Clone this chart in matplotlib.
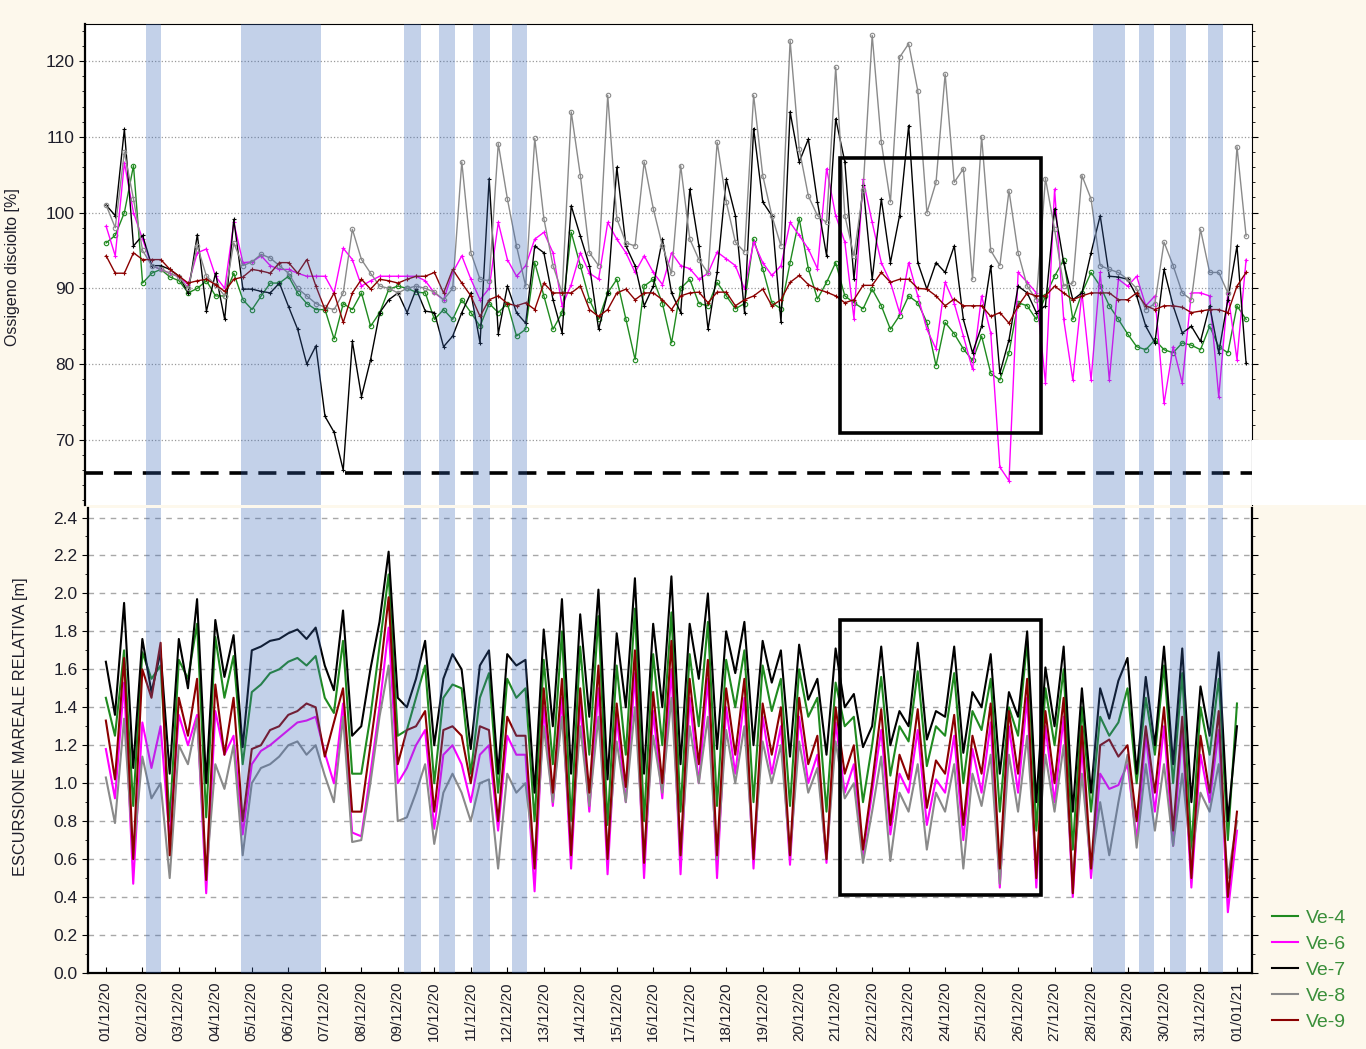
"""Ossigeno disciolto + escursione mareale, Dicembre 2020 (Ve-4..Ve-9)"""
import numpy as np
import matplotlib
matplotlib.use('Agg')
import matplotlib.pyplot as plt
from matplotlib.patches import Rectangle

plt.rcParams['font.family'] = ['Liberation Sans', 'DejaVu Sans']

# ---------------- data ----------------
STATIONS = ['Ve-4', 'Ve-6', 'Ve-7', 'Ve-8', 'Ve-9']
COLORS = ['#1f8a1f', '#ff00ff', '#000000', '#8a8a8a', '#8b0000']

DATE_LABELS = ['01/12/20', '02/12/20', '03/12/20', '04/12/20', '05/12/20', '06/12/20',
               '07/12/20', '08/12/20', '09/12/20', '10/12/20', '11/12/20', '12/12/20',
               '13/12/20', '14/12/20', '15/12/20', '16/12/20', '17/12/20', '18/12/20',
               '19/12/20', '20/12/20', '21/12/20', '22/12/20', '23/12/20', '24/12/20',
               '25/12/20', '26/12/20', '27/12/20', '28/12/20', '29/12/20', '30/12/20',
               '31/12/20', '01/01/21']

# MOSE closures (days from 01/12 00:00)
BAND_START = [1.10, 3.70, 8.17, 9.13, 10.06, 11.13, 27.06, 28.32, 29.17, 30.21]
BAND_END = [1.51, 5.89, 8.63, 9.57, 10.53, 11.54, 27.93, 28.73, 29.61, 30.62]

# highlighted window
BOX_DAYS = (20.12, 25.63)
BOX_O2 = (70.9, 107.15)
BOX_TIDE = (0.41, 1.862)
O2_THRESHOLD = 65.6

# dissolved oxygen [%], one value every 6 h from 01/12 00:00
o2_ve4 = [96, 97, 100, 106.2, 90.7, 92, 92.5, 91.5, 91, 89.4, 90, 91, 89, 89, 92, 88.5,
          87.2, 89, 90.7, 90.7, 91.6, 89.4, 88, 87.2, 87.2, 83.3, 88, 87.2, 89.4, 85, 86.8, 89.9,
          90.3, 90, 89.5, 89.4, 85.9, 87.2, 85.9, 88.5, 86.8, 85, 88, 86.8, 88, 83.7, 84.6, 93.4,
          89, 84.6, 86.8, 97.4, 93, 88.5, 85.9, 89.4, 91.2, 85.9, 80.6, 90.3, 91.2, 88, 82.8, 90,
          91.2, 88, 87.7, 90.8, 89, 87.3, 88, 96.5, 92.6, 88.1, 87.3, 93.4, 99.2, 92.6, 88.6, 90.8,
          93.4, 89, 88.1, 87.3, 89.9, 87.7, 84.6, 86.4, 89, 88.1, 85.5, 79.8, 85.5, 84, 82, 80.5,
          83.7, 78.8, 77.9, 81.5, 88.1, 87.7, 85.9, 89, 91.6, 93.8, 85.9, 89.4, 92.1, 90.3, 87.7, 85.9,
          84, 82.3, 81.9, 83.2, 81.9, 81.5, 82.8, 82.5, 81.9, 85, 82.3, 81.5, 87.7, 85.9]
o2_ve6 = [98.2, 94.3, 106.6, 100, 96.5, 93, 92.5, 92, 91.5, 90.5, 94.7, 95.2, 91.6, 90, 98.7, 93.4,
          93.5, 94.3, 93, 92.5, 92.5, 92, 91.6, 91.6, 91.6, 89.4, 95.3, 93.8, 90.3, 91, 91.6, 91.6,
          91.6, 91.6, 91.6, 91, 89.4, 88.5, 92.1, 94.3, 91.2, 88.5, 90, 98.7, 93.8, 91.6, 93, 96.5,
          97.4, 94.7, 87.7, 90.5, 94.7, 92, 91.2, 98.7, 96.5, 94.7, 92.1, 94.3, 92.1, 90.5, 94.7, 93,
          92.6, 91.2, 92, 94.8, 93.9, 93, 89.9, 96.1, 93.4, 91.7, 93, 98.7, 97, 95.2, 92.6, 105.8,
          99.6, 96.1, 86, 104.4, 98.7, 93.4, 90.8, 86.8, 93.4, 89, 84.6, 82, 90.8, 88, 83.7, 79.3,
          89, 84.1, 66.4, 64.6, 92.1, 90.8, 89.4, 77.5, 103.1, 85.9, 77.9, 89.4, 77.9, 92.1, 77.9, 91.2,
          90.3, 91.6, 87.7, 89, 74.8, 82.3, 77.5, 89.4, 89.4, 89, 75.7, 89.4, 80.6, 93.8]
o2_ve7 = [101, 99.6, 111, 95.6, 97, 93, 93, 92.5, 91.6, 89.4, 97.1, 87, 92, 85.9, 99.1, 89.9,
          89.9, 89.6, 89.4, 90.7, 87.6, 84.6, 80, 82.4, 73.1, 71, 66, 83, 75.7, 80.6, 86.8, 88.5,
          89.4, 86.8, 89.9, 87, 86.8, 82.3, 83.7, 86.8, 89.4, 82.8, 104.5, 84, 90.3, 86.8, 85.4, 95.6,
          94.7, 88.5, 84.1, 100.9, 96.9, 93, 84.6, 89.4, 106, 95.6, 93, 87.7, 90.3, 96.5, 89.4, 86.8,
          103.1, 95.6, 84.6, 92.1, 104.4, 99.6, 86.8, 111.1, 101.4, 99.6, 85.5, 113.3, 106.7, 109.7, 101.4, 94.3,
          112.4, 106.7, 91.2, 103.6, 91.2, 101.8, 93.4, 99.6, 111.5, 93.4, 89.9, 93.4, 92.1, 95.6, 85.9, 81.5,
          85, 93, 78.8, 83.2, 90.3, 89.4, 86.8, 87.7, 100.5, 93.4, 88.5, 89.4, 94.7, 99.6, 91.6, 91.5,
          91.2, 89, 85, 82.8, 92.5, 87.7, 84.1, 85, 83, 87.7, 81.5, 88.5, 95.6, 80.1]
o2_ve8 = [101, 98, 108, 101.8, 95, 93, 92.5, 92, 91.5, 90, 95.6, 91.6, 90.5, 89, 96, 93,
          93.5, 94.5, 94, 93, 92, 90, 89, 88, 87.5, 87.2, 89.4, 97.8, 93.8, 92, 90.3, 90,
          89.4, 90, 90.3, 90, 89.5, 88.5, 90, 106.7, 94.7, 91.2, 91, 109.1, 101.8, 95.6, 90.3, 109.8,
          99.2, 93, 89.4, 113.3, 104.9, 94.7, 93, 115.5, 99.2, 96, 95.6, 106.7, 100.5, 95.6, 92, 106.2,
          96.5, 93.8, 92, 109.3, 101.4, 96.1, 94.8, 115.5, 104.9, 99.6, 95.6, 122.7, 108.4, 102.2, 99.6, 98.7,
          119.2, 99.6, 94.3, 103, 123.4, 109.3, 101.4, 120.5, 122.3, 116.1, 100, 104, 118.3, 104, 105.8, 91.2,
          110, 95, 93, 102.9, 94.7, 90.3, 88.5, 104.5, 97.8, 90.3, 90.7, 104.9, 101.8, 93, 92.5, 92.1,
          91.2, 90, 87.2, 88, 96.1, 93, 89.4, 88.5, 97.8, 92.1, 92.1, 89.4, 108.7, 96.9]
o2_ve9 = [94.3, 92, 92, 94.7, 93.8, 93.8, 93.8, 92.5, 91.6, 90.7, 91, 91.2, 90.5, 89.6, 91.2, 91.5,
          92.5, 92.3, 92, 93.4, 93.4, 92, 93.8, 90.3, 87.2, 89.4, 85.5, 89.4, 91.2, 89.9, 91.2, 91,
          90.7, 91.2, 91.6, 91.6, 92.1, 89.4, 92.5, 90.7, 89, 86.3, 88.5, 89, 88, 87.7, 88.1, 87.2,
          90.7, 89.4, 89.4, 89.4, 90.3, 87.2, 86.3, 87.2, 89.4, 89.9, 88.5, 89.4, 89.4, 88.5, 87.2, 89,
          89.4, 89.5, 88.1, 89.5, 89.5, 87.7, 88.5, 89, 89.9, 87.7, 88.5, 90.8, 91.7, 90.5, 89.9, 89.5,
          89, 88.1, 88.5, 90.4, 90.4, 92.1, 90.8, 91.2, 91.2, 90, 89.9, 89, 87.7, 88.6, 87.7, 87.7,
          87.7, 86.3, 86.8, 85.4, 87.7, 89.4, 89, 89, 90.3, 89.4, 88.5, 89, 89.4, 89.4, 89.4, 88.5,
          88.5, 89.4, 87.7, 87.2, 87.7, 87.7, 87.5, 86.8, 87, 87.2, 87.2, 86.8, 90.3, 92.1]

# relative tidal excursion [m], one value every 6 h from 01/12 00:00
tide_ve4 = [1.45, 1.25, 1.70, 0.88, 1.69, 1.55, 1.62, 0.80, 1.65, 1.55, 1.84, 0.82, 1.77, 1.45, 1.67, 1.10,
            1.48, 1.52, 1.58, 1.60, 1.64, 1.66, 1.62, 1.67, 1.45, 1.37, 1.75, 1.05, 1.05, 1.35, 1.72, 2.10,
            1.25, 1.28, 1.45, 1.62, 1.00, 1.45, 1.52, 1.50, 1.05, 1.45, 1.58, 0.95, 1.55, 1.45, 1.50, 0.80,
            1.65, 1.10, 1.80, 0.80, 1.72, 1.15, 1.88, 0.78, 1.62, 1.15, 1.92, 0.80, 1.68, 1.20, 1.90, 0.85,
            1.68, 1.30, 1.85, 0.88, 1.65, 1.40, 1.70, 0.90, 1.62, 1.38, 1.55, 0.88, 1.60, 1.35, 1.45, 0.85,
            1.53, 1.30, 1.35, 0.90, 1.20, 1.56, 1.04, 1.30, 1.22, 1.59, 1.09, 1.30, 1.25, 1.58, 1.00, 1.38,
            1.28, 1.55, 0.85, 1.40, 1.25, 1.75, 0.75, 1.50, 1.20, 1.60, 0.65, 1.40, 0.85, 1.35, 1.25, 1.32,
            1.50, 1.00, 1.45, 1.15, 1.62, 1.00, 1.58, 0.65, 1.40, 1.15, 1.55, 0.70, 1.42]
tide_ve6 = [1.18, 0.92, 1.53, 0.47, 1.32, 1.08, 1.30, 0.70, 1.36, 1.20, 1.36, 0.42, 1.38, 1.15, 1.25, 0.73,
            1.10, 1.17, 1.20, 1.24, 1.28, 1.32, 1.33, 1.35, 1.16, 1.00, 1.42, 0.74, 0.72, 1.05, 1.40, 1.82,
            1.00, 1.08, 1.20, 1.28, 0.76, 1.15, 1.20, 1.10, 0.90, 1.15, 1.20, 0.75, 1.25, 1.15, 1.15, 0.43,
            1.40, 0.88, 1.45, 0.55, 1.42, 0.85, 1.50, 0.52, 1.35, 0.90, 1.58, 0.50, 1.38, 0.92, 1.60, 0.52,
            1.45, 1.00, 1.55, 0.50, 1.40, 1.05, 1.45, 0.55, 1.35, 1.05, 1.30, 0.57, 1.35, 1.00, 1.15, 0.58,
            1.32, 0.95, 1.10, 0.62, 0.95, 1.28, 0.73, 1.05, 0.95, 1.28, 0.78, 1.02, 0.95, 1.25, 0.70, 1.18,
            0.95, 1.32, 0.45, 1.30, 0.95, 1.45, 0.45, 1.30, 0.90, 1.35, 0.40, 1.20, 0.50, 1.05, 0.97, 0.99,
            1.10, 0.70, 1.25, 0.85, 1.30, 0.67, 1.28, 0.45, 1.15, 0.90, 1.28, 0.32, 0.75]
tide_ve7 = [1.64, 1.36, 1.95, 1.08, 1.76, 1.48, 1.69, 1.05, 1.76, 1.50, 1.97, 1.00, 1.86, 1.56, 1.78, 1.19,
            1.70, 1.72, 1.75, 1.76, 1.79, 1.81, 1.76, 1.82, 1.62, 1.49, 1.91, 1.25, 1.30, 1.60, 1.85, 2.22,
            1.45, 1.40, 1.55, 1.75, 1.20, 1.55, 1.68, 1.60, 1.18, 1.62, 1.70, 1.05, 1.68, 1.62, 1.65, 0.95,
            1.81, 1.30, 1.97, 1.05, 1.89, 1.35, 2.02, 1.02, 1.79, 1.40, 2.08, 1.05, 1.84, 1.40, 2.09, 1.10,
            1.84, 1.55, 2.00, 1.18, 1.80, 1.58, 1.85, 1.20, 1.75, 1.53, 1.70, 1.14, 1.73, 1.44, 1.55, 1.15,
            1.71, 1.40, 1.47, 1.19, 1.30, 1.72, 1.20, 1.38, 1.30, 1.74, 1.23, 1.38, 1.35, 1.72, 1.16, 1.48,
            1.40, 1.68, 1.05, 1.48, 1.35, 1.80, 0.90, 1.61, 1.30, 1.72, 0.85, 1.50, 0.95, 1.50, 1.34, 1.54,
            1.66, 1.05, 1.56, 1.20, 1.72, 1.10, 1.71, 0.90, 1.51, 1.25, 1.69, 0.80, 1.30]
tide_ve8 = [1.03, 0.79, 1.34, 0.62, 1.14, 0.92, 1.00, 0.50, 1.20, 1.10, 1.34, 0.51, 1.10, 0.97, 1.20, 0.62,
            1.00, 1.08, 1.10, 1.14, 1.20, 1.22, 1.15, 1.20, 1.04, 0.90, 1.35, 0.69, 0.70, 1.00, 1.35, 1.62,
            0.80, 0.82, 0.95, 1.10, 0.68, 0.95, 1.05, 0.95, 0.80, 1.00, 1.02, 0.55, 1.05, 0.95, 1.00, 0.60,
            1.30, 0.90, 1.35, 0.68, 1.30, 0.88, 1.35, 0.65, 1.22, 0.90, 1.40, 0.62, 1.25, 0.95, 1.45, 0.62,
            1.30, 1.00, 1.35, 0.60, 1.28, 1.00, 1.30, 0.62, 1.22, 1.00, 1.20, 0.62, 1.22, 0.95, 1.08, 0.60,
            1.22, 0.92, 1.00, 0.58, 0.85, 1.14, 0.59, 0.95, 0.85, 1.10, 0.65, 0.95, 0.85, 1.10, 0.55, 1.05,
            0.88, 1.15, 0.47, 1.15, 0.85, 1.25, 0.55, 1.15, 0.85, 1.20, 0.50, 1.05, 0.55, 0.90, 0.62, 0.90,
            1.15, 0.66, 1.10, 0.75, 1.10, 0.67, 1.05, 0.60, 0.95, 0.85, 1.10, 0.50, 0.80]
tide_ve9 = [1.33, 1.02, 1.66, 0.60, 1.60, 1.45, 1.74, 0.62, 1.45, 1.25, 1.55, 0.49, 1.52, 1.15, 1.45, 0.80,
            1.18, 1.20, 1.28, 1.30, 1.36, 1.38, 1.42, 1.40, 1.14, 1.32, 1.50, 0.85, 0.85, 1.20, 1.55, 1.98,
            1.10, 1.28, 1.30, 1.38, 0.85, 1.28, 1.30, 1.25, 1.00, 1.30, 1.28, 0.80, 1.35, 1.25, 1.25, 0.55,
            1.50, 0.95, 1.55, 0.62, 1.50, 0.95, 1.62, 0.60, 1.42, 0.98, 1.70, 0.58, 1.48, 1.00, 1.75, 0.62,
            1.55, 1.10, 1.65, 0.62, 1.50, 1.15, 1.55, 0.60, 1.42, 1.15, 1.40, 0.62, 1.45, 1.10, 1.25, 0.60,
            1.40, 1.05, 1.20, 0.65, 1.00, 1.39, 0.78, 1.15, 1.02, 1.39, 0.87, 1.12, 1.05, 1.36, 0.78, 1.25,
            1.05, 1.42, 0.55, 1.38, 1.05, 1.55, 0.50, 1.38, 1.00, 1.45, 0.42, 1.30, 0.55, 1.20, 1.23, 1.14,
            1.20, 0.80, 1.30, 0.95, 1.40, 0.75, 1.35, 0.50, 1.25, 0.95, 1.38, 0.40, 0.85]

O2 = [o2_ve4, o2_ve6, o2_ve7, o2_ve8, o2_ve9]
TIDE = [tide_ve4, tide_ve6, tide_ve7, tide_ve8, tide_ve9]
t_o2 = np.arange(len(o2_ve4)) * 0.25
t_tide = np.arange(len(tide_ve4)) * 0.25

O2_MARKERS = ['o', '+', '+', 'o', '+']

# ---------------- figure ----------------
BG = '#fdf8ec'
BAND_COLOR = '#3a69b9'
TXT = '#1e1e2a'

fig = plt.figure(figsize=(13.66, 10.49), dpi=100, facecolor=BG)
ax1 = fig.add_axes([0.0622, 0.5186, 0.8543, 0.4585])
ax2 = fig.add_axes([0.0644, 0.0725, 0.8521, 0.4432])

# white patch right of the upper panel bottom
fig.patches.append(Rectangle((0.9166, 0.5186), 0.0834, 0.062, transform=fig.transFigure,
                             facecolor='white', edgecolor='none', zorder=0))

# upper panel: oxygen
for vals, col, mk in zip(O2, COLORS, O2_MARKERS):
    ax1.plot(t_o2, vals, color=col, lw=1.0, marker=mk, ms=3.2, mew=0.8,
             mfc='none' if mk == 'o' else col, zorder=2)
ax1.axhline(O2_THRESHOLD, color='black', lw=2.6, dashes=(5, 3), zorder=2.5)
ax1.add_patch(Rectangle((BOX_DAYS[0], BOX_O2[0]), BOX_DAYS[1] - BOX_DAYS[0], BOX_O2[1] - BOX_O2[0],
                        fill=False, edgecolor='black', lw=2.6, zorder=5))
ax1.set_xlim(-0.58, 31.41)
ax1.set_ylim(61.4, 124.9)
ax1.set_yticks([70, 80, 90, 100, 110, 120])
ax1.set_yticks(np.arange(62, 125, 2), minor=True)
ax1.set_xticks([])
ax1.yaxis.grid(True, ls=':', color='#9a9a9a', lw=0.9)
ax1.set_axisbelow(True)
ax1.spines['bottom'].set_visible(False)
ax1.tick_params(axis='y', which='both', direction='out', right=True, labelsize=12.5,
                labelcolor=TXT, length=4)
ax1.tick_params(axis='y', which='minor', length=2.5)
ax1.set_ylabel('Ossigeno disciolto [%]', fontsize=11.5, color=TXT)
ax1.yaxis.set_label_coords(-0.0557, 0.495)

# lower panel: tide
for vals, col, name in zip(TIDE, COLORS, STATIONS):
    ax2.plot(t_tide, vals, color=col, lw=1.5, label=name, zorder=2)
ax2.add_patch(Rectangle((BOX_DAYS[0], BOX_TIDE[0]), BOX_DAYS[1] - BOX_DAYS[0], BOX_TIDE[1] - BOX_TIDE[0],
                        fill=False, edgecolor='black', lw=2.6, zorder=5))
ax2.set_xlim(-0.49, 31.41)
ax2.set_ylim(0, 2.45)
ax2.set_yticks(np.arange(0, 2.41, 0.2))
ax2.set_yticklabels([f'{v:.1f}' for v in np.arange(0, 2.41, 0.2)])
ax2.set_yticks(np.arange(0.1, 2.45, 0.2), minor=True)
ax2.set_xticks(np.arange(len(DATE_LABELS)))
ax2.set_xticklabels(DATE_LABELS, rotation=90, fontsize=11, color=TXT)
ax2.yaxis.grid(True, ls=(0, (4, 4)), color='#a8a8a8', lw=1.0)
ax2.set_axisbelow(True)
ax2.spines['top'].set_visible(False)
for sp in ['left', 'bottom', 'right']:
    ax2.spines[sp].set_linewidth(1.6)
ax1.spines['left'].set_linewidth(1.6)
ax2.tick_params(axis='x', direction='in', length=4, pad=6)
ax2.tick_params(axis='y', which='both', direction='out', right=True, labelsize=12.5,
                labelcolor=TXT, length=4)
ax2.tick_params(axis='y', which='minor', length=2.5)
ax2.set_ylabel('ESCURSIONE MAREALE RELATIVA [m]', fontsize=11.8, color=TXT)
ax2.yaxis.set_label_coords(-0.0515, 0.529)

# MOSE closure bands over both panels
for ax in (ax1, ax2):
    for s, e in zip(BAND_START, BAND_END):
        ax.axvspan(s, e, color=BAND_COLOR, alpha=0.30, lw=0, zorder=3)

leg = fig.legend(handles=ax2.lines, labels=STATIONS, loc='upper left',
                 bbox_to_anchor=(0.9187, 0.1497), frameon=False, fontsize=14,
                 handlelength=1.34, labelspacing=0.43, handletextpad=0.36)
for txt in leg.get_texts():
    txt.set_color('#3a8f3a')

fig.savefig('out.png', dpi=100, facecolor=BG)
